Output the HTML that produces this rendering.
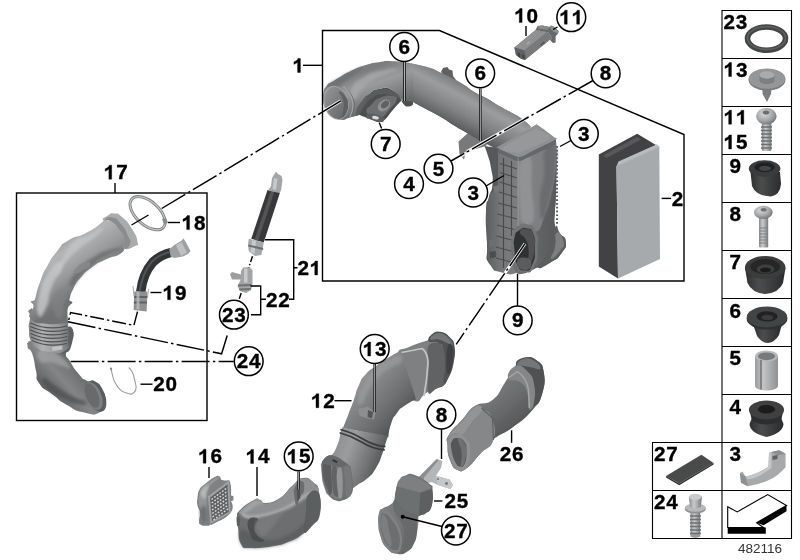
<!DOCTYPE html>
<html>
<head>
<meta charset="utf-8">
<title>Intake duct parts diagram 482116</title>
<style>
html,body{margin:0;padding:0;background:#fff;}
body{width:800px;height:560px;overflow:hidden;font-family:"Liberation Sans",sans-serif;}
svg{display:block;}
.l{stroke:#000;stroke-width:1.4;fill:none;}
.dd{stroke:#000;stroke-width:1.45;fill:none;stroke-dasharray:16 3 2 3;}
.c{fill:#fff;stroke:#000;stroke-width:1.5;}
.t{font-family:"Liberation Sans",sans-serif;font-weight:bold;font-size:19.5px;fill:#000;stroke:#000;stroke-width:0.35;}
.t1{fill:#000;stroke:#000;stroke-width:37;}
.sm{font-family:"Liberation Sans",sans-serif;font-size:13.5px;fill:#333;}
</style>
</head>
<body>
<svg width="800" height="560" viewBox="0 0 800 560">
<defs>
<filter id="b1" x="-5%" y="-5%" width="110%" height="110%"><feGaussianBlur stdDeviation="0.6"/></filter>
<filter id="b2" x="-10%" y="-10%" width="120%" height="120%"><feGaussianBlur stdDeviation="1.6"/></filter>
<filter id="b3" x="-20%" y="-20%" width="140%" height="140%"><feGaussianBlur stdDeviation="3"/></filter>
<linearGradient id="gMetalV" x1="0" y1="0" x2="1" y2="0"><stop offset="0" stop-color="#8a8c8d"/><stop offset="0.4" stop-color="#c9cbcc"/><stop offset="1" stop-color="#77797a"/></linearGradient>
<linearGradient id="gSleeve" x1="0" y1="0" x2="1" y2="0"><stop offset="0" stop-color="#9a9c9d"/><stop offset="0.35" stop-color="#c2c4c5"/><stop offset="1" stop-color="#8e9091"/></linearGradient>
<radialGradient id="gHead" cx="0.4" cy="0.35" r="0.7"><stop offset="0" stop-color="#d8dadb"/><stop offset="0.6" stop-color="#a3a5a6"/><stop offset="1" stop-color="#6f7172"/></radialGradient>
<linearGradient id="gRub" x1="0" y1="0" x2="1" y2="0"><stop offset="0" stop-color="#2e2f30"/><stop offset="0.35" stop-color="#4c4d4e"/><stop offset="1" stop-color="#2a2b2c"/></linearGradient>
<linearGradient id="gRubV" x1="0" y1="0" x2="0" y2="1"><stop offset="0" stop-color="#4a4b4c"/><stop offset="1" stop-color="#262728"/></linearGradient>
<linearGradient id="gP1" gradientUnits="userSpaceOnUse" x1="395" y1="60" x2="412" y2="108"><stop offset="0" stop-color="#7b7d7e"/><stop offset="0.3" stop-color="#999b9c"/><stop offset="0.65" stop-color="#787a7b"/><stop offset="1" stop-color="#555758"/></linearGradient>
<linearGradient id="gP1b" gradientUnits="userSpaceOnUse" x1="482" y1="92" x2="460" y2="134"><stop offset="0" stop-color="#77797a"/><stop offset="0.28" stop-color="#9b9d9e"/><stop offset="0.6" stop-color="#818384"/><stop offset="0.85" stop-color="#626465"/><stop offset="1" stop-color="#505253"/></linearGradient>
<linearGradient id="gHouseL" gradientUnits="userSpaceOnUse" x1="486" y1="0" x2="518" y2="0"><stop offset="0" stop-color="#5c5e5f"/><stop offset="0.45" stop-color="#747677"/><stop offset="1" stop-color="#7c7e7f"/></linearGradient>
<linearGradient id="gHouseR" gradientUnits="userSpaceOnUse" x1="518" y1="0" x2="560" y2="0"><stop offset="0" stop-color="#6c6e6f"/><stop offset="0.5" stop-color="#626465"/><stop offset="1" stop-color="#555758"/></linearGradient>
<linearGradient id="g17a" gradientUnits="userSpaceOnUse" x1="70" y1="225" x2="105" y2="275"><stop offset="0" stop-color="#8d8f90"/><stop offset="0.3" stop-color="#b3b5b6"/><stop offset="0.65" stop-color="#97999a"/><stop offset="1" stop-color="#6f7172"/></linearGradient>
<linearGradient id="g17b" gradientUnits="userSpaceOnUse" x1="30" y1="0" x2="72" y2="0"><stop offset="0" stop-color="#838586"/><stop offset="0.3" stop-color="#b0b2b3"/><stop offset="0.7" stop-color="#939596"/><stop offset="1" stop-color="#686a6b"/></linearGradient>
<linearGradient id="g17c" gradientUnits="userSpaceOnUse" x1="40" y1="395" x2="85" y2="355"><stop offset="0" stop-color="#525455"/><stop offset="0.45" stop-color="#838586"/><stop offset="0.8" stop-color="#66686a"/><stop offset="1" stop-color="#4a4c4d"/></linearGradient>
<linearGradient id="gHose" x1="0" y1="0" x2="1" y2="0"><stop offset="0" stop-color="#2b2c2d"/><stop offset="0.4" stop-color="#515253"/><stop offset="1" stop-color="#2a2b2c"/></linearGradient>
<linearGradient id="g12a" gradientUnits="userSpaceOnUse" x1="365" y1="370" x2="410" y2="410"><stop offset="0" stop-color="#929495"/><stop offset="0.35" stop-color="#808283"/><stop offset="0.75" stop-color="#686a6b"/><stop offset="1" stop-color="#525455"/></linearGradient>
<linearGradient id="g12b" gradientUnits="userSpaceOnUse" x1="335" y1="440" x2="385" y2="460"><stop offset="0" stop-color="#8c8e8f"/><stop offset="0.3" stop-color="#9a9c9d"/><stop offset="0.7" stop-color="#727475"/><stop offset="1" stop-color="#505253"/></linearGradient>
<linearGradient id="g26" gradientUnits="userSpaceOnUse" x1="480" y1="395" x2="515" y2="440"><stop offset="0" stop-color="#77797a"/><stop offset="0.4" stop-color="#6a6c6d"/><stop offset="1" stop-color="#4c4e4f"/></linearGradient>
<linearGradient id="g25" gradientUnits="userSpaceOnUse" x1="380" y1="500" x2="432" y2="520"><stop offset="0" stop-color="#808283"/><stop offset="0.5" stop-color="#737576"/><stop offset="1" stop-color="#5c5e5f"/></linearGradient>
<linearGradient id="g14" gradientUnits="userSpaceOnUse" x1="270" y1="490" x2="295" y2="545"><stop offset="0" stop-color="#8e9091"/><stop offset="0.4" stop-color="#77797a"/><stop offset="1" stop-color="#4f5152"/></linearGradient>
<linearGradient id="gOpen" gradientUnits="userSpaceOnUse" x1="326" y1="90" x2="346" y2="114"><stop offset="0" stop-color="#919394"/><stop offset="0.5" stop-color="#7c7e7f"/><stop offset="1" stop-color="#66686a"/></linearGradient>
</defs>
<rect x="0" y="0" width="800" height="560" fill="#fff"/>

<g id="parts">
<!-- ===== right column icons ===== -->
<g filter="url(#b1)">
<!-- 23 o-ring -->
<ellipse cx="766.5" cy="38.6" rx="19" ry="11.6" fill="none" stroke="#454647" stroke-width="5.6"/>
<ellipse cx="766.5" cy="38" rx="19" ry="11.4" fill="none" stroke="#5d5e5f" stroke-width="1.6"/>
<!-- 13 washer screw -->
<path d="M762.3 88 L762.6 94 L767 102 L771 94 L771.4 88 Z" fill="#7b7d7e"/>
<ellipse cx="767" cy="79.8" rx="18.5" ry="10.8" fill="#7a7c7d"/>
<ellipse cx="767" cy="78.6" rx="18.3" ry="10.2" fill="#949697"/>
<path d="M759.5 75 V80.5 A7.5 3.6 0 0 0 774.5 80.500 V75 Z" fill="#7d7f80"/>
<ellipse cx="767" cy="75" rx="7.5" ry="3.7" fill="#a9abac"/>
<!-- 11/15 screw -->
<rect x="761.8" y="121" width="9.6" height="30" rx="1.5" fill="url(#gMetalV)"/>
<path d="M761 127 h11 M761 130.500 h11 M761 134 h11 M761 137.500 h11 M761 141 h11 M761 144.500 h11 M761 148 h11" stroke="#6d6f70" stroke-width="1.3" fill="none"/>
<ellipse cx="766.3" cy="116.3" rx="10.3" ry="8.3" fill="url(#gHead)"/>
<ellipse cx="766" cy="112.500" rx="3.2" ry="2" fill="#6a6c6d"/>
<!-- 9 grommet -->
<path d="M750.5 172 L752 186 Q756 196 771 196.500 Q780 195 781 184 L780 172 Z" fill="url(#gRub)"/>
<ellipse cx="764.6" cy="168.6" rx="15.8" ry="8.4" fill="#3a3b3c"/>
<ellipse cx="764.6" cy="167.2" rx="10" ry="4.8" fill="#1f2021"/>
<ellipse cx="765" cy="168.400" rx="6" ry="2.6" fill="#444546"/>
<!-- 8 bolt -->
<rect x="759" y="216" width="9.2" height="31.5" rx="1.2" fill="url(#gMetalV)"/>
<path d="M759 228 h9 M759 231 h9 M759 234 h9 M759 237 h9 M759 240 h9 M759 243 h9" stroke="#808283" stroke-width="1" fill="none"/>
<ellipse cx="763.3" cy="212.3" rx="9.4" ry="6.6" fill="url(#gHead)"/>
<ellipse cx="763.6" cy="209.800" rx="3" ry="1.8" fill="#6f7172"/>
<!-- 7 grommet -->
<path d="M745 268 L747.500 283 Q752 293 765 294 Q779 293 783 283 L785.500 268 Z" fill="url(#gRub)"/>
<ellipse cx="765.2" cy="267.5" rx="20.3" ry="11.4" fill="#3b3c3d"/>
<ellipse cx="765.2" cy="266.500" rx="15" ry="7.6" fill="#262728"/>
<ellipse cx="765.500" cy="269" rx="9" ry="4.4" fill="#3e3f40"/>
<ellipse cx="765.500" cy="270" rx="5.500" ry="2.600" fill="#1d1e1f"/>
<!-- 6 grommet -->
<path d="M753 324 L757 336 Q762 343 768 343 Q775 342 779 335 L782 324 Z" fill="url(#gRub)"/>
<ellipse cx="767" cy="318.6" rx="20.4" ry="11" fill="#2f3031"/>
<ellipse cx="767" cy="317" rx="20.2" ry="10.4" fill="#434445"/>
<ellipse cx="767" cy="316.400" rx="10.500" ry="5.200" fill="#202122"/>
<ellipse cx="767.500" cy="317.500" rx="6" ry="2.800" fill="#3a3b3c"/>
<!-- 5 sleeve -->
<path d="M755 356 V386 A11.500 4.600 0 0 0 778 386 V356 Z" fill="url(#gSleeve)"/>
<ellipse cx="766.500" cy="356" rx="11.500" ry="5.600" fill="#b9bbbc"/>
<ellipse cx="766.500" cy="356.300" rx="8.600" ry="3.900" fill="#77797a"/>
<path d="M761 360 V389.500" stroke="#5e6061" stroke-width="1.2" fill="none"/>
<!-- 4 grommet -->
<path d="M749.500 424 Q750 433 766.500 437 Q783 433 783.500 424 L781 418 H752 Z" fill="url(#gRub)"/>
<path d="M750 412 L752 421 Q766 428 781 421 L783 412 Z" fill="#2c2d2e"/>
<ellipse cx="766.500" cy="410" rx="17.600" ry="9.400" fill="#3f4041"/>
<ellipse cx="766.500" cy="409.200" rx="8.600" ry="4.300" fill="#1c1d1e"/>
<!-- 27 pad -->
<path d="M666 476 L701.400 454.800 L713.600 463 L679.200 483.600 Z" fill="#4a4b4c"/>
<path d="M666 476 L679.200 483.600 L713.600 463 L713.600 464.500 L679.200 485.200 L666 477.500 Z" fill="#2e2f30"/>
<!-- 3 clip -->
<path d="M740 473 L742.500 471.500 L745.500 476.500 Q758 474 768.500 466.500 L769 452.500 L779 450.300 L785.600 453.700 L785.600 467.200 Q778 476 769 480 Q758 485 748 486.300 L741 482.800 Z" fill="#a7a9aa"/>
<path d="M745.500 476.500 Q758 474 768.500 466.500 L769 452.500 L771.500 452 L771.500 468 Q760 477 748 479.500 Z" fill="#c4c6c7"/>
<path d="M771.500 452 L779 450.300 L785.600 453.700 L778 455.500 Z" fill="#8b8d8e"/>
<path d="M772.500 456 l5 -1 v4 l-5 1 z" fill="#5f6162"/>
<path d="M740 473 L745.500 476.500 L748 486.300 L741 482.800 Z" fill="#8e9091"/>
<!-- 24 bolt -->
<rect x="690.400" y="510" width="9.800" height="24" rx="1.500" fill="url(#gMetalV)"/>
<path d="M690.400 536.800 l4.900 1.200 l4.900 -1.200 v-4 h-9.800 z" fill="#9b9d9e"/>
<path d="M690 516 h11 M690 519.500 h11 M690 523 h11 M690 526.500 h11 M690 530 h11 M690 533.500 h11" stroke="#6d6f70" stroke-width="1.300" fill="none"/>
<ellipse cx="695.300" cy="509" rx="10.600" ry="4.600" fill="#8e9091"/>
<ellipse cx="695.300" cy="507.600" rx="10.400" ry="4.200" fill="#b7b9ba"/>
<path d="M688.800 497 L690 507 Q695 510 700.800 507 L702 497 Q695.500 492 688.800 497 Z" fill="url(#gMetalV)"/>
<ellipse cx="695.300" cy="496.800" rx="6.400" ry="3" fill="#c9cbcc"/>
</g>
<!-- arrow -->
<path d="M727.700 506.800 L737.200 511.900 L767.700 494.600 L786.500 505.400 L756.600 522.700 L763.400 527.500 L727.700 527.500 Z" fill="#fff" stroke="#000" stroke-width="1.100" stroke-linejoin="miter"/>
<path d="M727.700 527.500 H765.800 V533.800 H727.700 Z" fill="#000"/>
<path d="M756.600 522.700 L786.500 505.400 L786.500 511.300 L763.600 525.200 Z" fill="#000"/>
<g filter="url(#b1)">
<path d="M598.8 154.5 L637.2 133.8 L659.3 147 L616.5 166.3 L618 278.4 L598.8 266.6 Z" fill="#424344"/>
<path d="M603 155.5 L637 137 L641 139.5 L606.5 158 Z" fill="#58595a"/>
<path d="M616.5 166.3 L659.3 147 L660 259 L618 278.4 Z" fill="#a6aaac"/>
<path d="M616.5 166.3 L618.5 161.5 L657 144.2 L659.3 147 Z" fill="#b9bcbe"/>
</g>
<g filter="url(#b1)">
<path d="M441 72 L443 68 L447.5 67 L449 69.5 L452.5 70.5 L453 76 L456 80 L448 80 Z" fill="#5f6162"/>
<path d="M357.0 114.0 C357.0 114.0 359.3 111.2 363.5 104.5 C367.7 97.8 364.0 99.3 369.5 94.0 C375.0 88.7 372.5 90.0 380.0 88.7 C387.5 87.4 385.0 86.6 392.0 90.0 C399.0 93.4 401.0 99.0 401.0 99.0 C401.0 99.0 401.2 101.5 403.5 104.0 C405.8 106.5 404.8 106.3 408.0 106.5 C411.2 106.7 413.0 104.5 413.0 104.5 C413.0 104.5 413.0 101.0 413.0 101.0 C413.0 101.0 409.0 100.0 405.0 100.0 C401.0 100.0 401.0 101.0 401.0 101.0 C401.0 101.0 397.3 104.8 392.0 111.0 C386.7 117.2 389.0 115.8 385.0 119.5 C381.0 123.2 384.3 122.0 380.0 122.0 C375.7 122.0 376.7 121.0 372.0 119.5 C367.3 118.0 371.0 119.3 366.0 117.5 C361.0 115.7 357.0 114.0 357.0 114.0 Z" fill="#4d4f50"/>
<path d="M367.0 113.0 C365.0 108.0 367.3 109.2 372.0 104.0 C376.7 98.8 374.3 100.2 381.0 97.5 C387.7 94.8 386.8 95.2 392.0 96.0 C397.2 96.8 397.2 95.7 396.5 100.0 C395.8 104.3 394.5 103.5 390.0 109.0 C385.5 114.5 387.0 113.2 383.0 116.5 C379.0 119.8 383.3 120.2 378.0 119.0 C372.7 117.8 369.0 118.0 367.0 113.0 Z" fill="#6c6e6f"/>
<ellipse cx="384" cy="105.5" rx="7" ry="5" fill="#8f9192" transform="rotate(-40 384 105.5)"/>
<ellipse cx="385" cy="104.5" rx="4.5" ry="3" fill="#5e6061" transform="rotate(-40 385 104.5)"/>
<path d="M366.5 117.0 C366.2 114.8 366.2 113.7 371.0 113.5 C375.8 113.3 376.7 114.5 381.0 116.5 C385.3 118.5 384.3 117.7 384.0 119.5 C383.7 121.3 384.0 121.8 380.0 122.0 C376.0 122.2 376.5 121.7 372.0 120.0 C367.5 118.3 366.8 119.2 366.5 117.0 Z" fill="#5c5e5f"/>
<ellipse cx="375.5" cy="117.6" rx="3.4" ry="1.7" fill="#d9dbdc" transform="rotate(12 375.5 117.6)"/>
<path d="M468 133 L458.5 141.5 L459.5 154 L464 159.5 L465.5 153 L472 150 L486 146 L490 138 Z" fill="#77797a"/>
<path d="M461 154.2 l5 -2.6 l0.8 3 l-5 2.7 z" fill="#ececec"/>
<path d="M326.7 85.7 C330.0 81.5 328.7 84.1 333.0 81.3 C337.3 78.5 333.8 80.6 339.5 77.3 C345.2 74.0 341.5 75.3 350.0 71.3 C358.5 67.3 355.0 68.4 365.0 65.3 C375.0 62.2 371.0 63.4 380.0 62.0 C389.0 60.6 384.0 61.1 392.0 61.2 C400.0 61.3 395.5 61.1 404.0 62.3 C412.5 63.5 408.8 62.8 417.5 64.7 C426.2 66.6 422.5 65.4 430.0 68.0 C437.5 70.6 430.0 67.7 440.0 72.5 C450.0 77.3 448.3 75.8 460.0 82.5 C471.7 89.2 466.3 87.3 475.0 92.5 C483.7 97.7 477.7 93.3 486.0 98.0 C494.3 102.7 491.3 101.5 500.0 106.5 C508.7 111.5 504.7 108.8 512.0 113.0 C519.3 117.2 515.7 114.3 522.0 119.0 C528.3 123.7 531.0 127.0 531.0 127.0 C531.0 127.0 498.0 150.0 498.0 150.0 C498.0 150.0 496.0 148.7 490.0 145.5 C484.0 142.3 487.3 144.5 480.0 140.5 C472.7 136.5 476.3 138.3 468.0 133.5 C459.7 128.7 464.3 131.7 455.0 126.0 C445.7 120.3 450.0 122.3 440.0 116.5 C430.0 110.7 434.0 113.3 425.0 108.5 C416.0 103.7 413.0 102.0 413.0 102.0 C413.0 102.0 401.0 99.5 401.0 99.5 C401.0 99.5 399.0 93.6 392.0 90.0 C385.0 86.4 387.5 87.4 380.0 88.7 C372.5 90.0 375.0 88.7 369.5 94.0 C364.0 99.3 367.7 97.3 363.5 104.5 C359.3 111.7 357.0 115.5 357.0 115.5 C357.0 115.5 355.8 116.2 350.0 117.5 C344.2 118.8 346.5 120.8 339.5 119.5 C332.5 118.2 334.3 119.0 329.0 113.5 C323.7 108.0 325.4 109.5 323.5 103.0 C321.6 96.5 322.1 99.8 323.2 94.0 C324.3 88.2 323.4 89.9 326.7 85.7 Z" fill="url(#gP1)"/>
<path d="M413.0 64.0 C413.0 64.0 421.0 65.2 430.0 68.0 C439.0 70.8 430.0 67.7 440.0 72.5 C450.0 77.3 448.3 75.8 460.0 82.5 C471.7 89.2 466.3 87.3 475.0 92.5 C483.7 97.7 477.7 93.3 486.0 98.0 C494.3 102.7 491.3 101.5 500.0 106.5 C508.7 111.5 504.7 108.8 512.0 113.0 C519.3 117.2 515.7 114.3 522.0 119.0 C528.3 123.7 531.0 127.0 531.0 127.0 C531.0 127.0 498.0 150.0 498.0 150.0 C498.0 150.0 496.0 148.7 490.0 145.5 C484.0 142.3 487.3 144.5 480.0 140.5 C472.7 136.5 476.3 138.3 468.0 133.5 C459.7 128.7 464.3 131.7 455.0 126.0 C445.7 120.3 450.0 122.3 440.0 116.5 C430.0 110.7 434.0 113.3 425.0 108.5 C416.0 103.7 413.0 102.0 413.0 102.0 C413.0 102.0 413.0 64.0 413.0 64.0 Z" fill="url(#gP1b)"/>
<path d="M352.0 88.0 C355.0 80.7 354.7 82.7 364.0 77.0 C373.3 71.3 368.7 73.7 380.0 71.0 C391.3 68.3 395.3 68.0 398.0 69.0 C400.7 70.0 396.0 70.3 388.0 74.0 C380.0 77.7 382.7 75.0 374.0 80.0 C365.3 85.0 368.3 82.7 362.0 89.0 C355.7 95.3 358.3 99.3 355.0 99.0 C351.7 98.7 349.0 95.3 352.0 88.0 Z" fill="#a6a8a9" opacity="0.85" filter="url(#b2)"/>
<path d="M328.0 86.0 C329.3 82.5 332.0 82.3 340.0 77.5 C348.0 72.7 344.7 74.8 352.0 71.5 C359.3 68.2 362.0 66.0 362.0 67.5 C362.0 69.0 358.7 70.5 352.0 76.0 C345.3 81.5 347.3 80.0 342.0 84.0 C336.7 88.0 340.7 87.3 336.0 88.0 C331.3 88.7 326.7 89.5 328.0 86.0 Z" fill="#66686a" opacity="0.6" filter="url(#b2)"/>
<path d="M356.0 112.0 C357.0 107.3 357.3 107.2 362.0 101.0 C366.7 94.8 364.0 97.3 370.0 93.5 C376.0 89.7 372.7 90.3 380.0 89.5 C387.3 88.7 385.3 88.2 392.0 91.0 C398.7 93.8 400.0 96.5 400.0 98.0 C400.0 99.5 398.3 96.7 392.0 95.5 C385.7 94.3 388.0 93.3 381.0 94.5 C374.0 95.7 376.7 94.8 371.0 99.0 C365.3 103.2 368.0 101.7 364.0 107.0 C360.0 112.3 361.7 113.3 359.0 115.0 C356.3 116.7 355.0 116.7 356.0 112.0 Z" fill="#5b5d5e" opacity="0.9"/>
<ellipse cx="336" cy="102.700" rx="12.300" ry="17.300" transform="rotate(-15 336 102.700)" fill="#a2a4a5"/>
<ellipse cx="336.300" cy="102.900" rx="11.300" ry="16.300" transform="rotate(-15 336.300 102.900)" fill="url(#gOpen)"/>
<path d="M339.0 92.0 C339.7 90.7 342.0 92.0 345.0 96.0 C348.0 100.0 347.7 98.7 348.0 104.0 C348.3 109.3 348.0 107.8 346.0 112.0 C344.0 116.2 342.8 117.8 342.0 116.5 C341.2 115.2 343.2 113.5 343.5 108.0 C343.8 102.5 344.5 105.3 343.0 100.0 C341.5 94.7 338.3 93.3 339.0 92.0 Z" fill="#5c5e5f" opacity="0.85" filter="url(#b1)"/>
<path d="M345 87.500 Q352.500 93 354.500 104 Q354.500 111 351.500 116.500" stroke="#66686a" stroke-width="1" fill="none" opacity="0.8"/>
<path d="M343.500 86.500 Q351 92 353 104 Q353 111 350 117" stroke="#a8aaab" stroke-width="1.200" fill="none" opacity="0.8"/>
</g>
<g filter="url(#b1)">
<path d="M484.5 146.0 C484.5 146.0 499.0 148.0 499.0 148.0 C499.0 148.0 499.0 262.0 499.0 262.0 C499.0 262.0 492.5 268.8 488.5 262.5 C484.5 256.2 487.8 260.2 487.0 243.0 C486.2 225.8 485.3 226.3 486.0 211.0 C486.7 195.7 486.8 206.0 489.0 197.0 C491.2 188.0 491.8 193.7 492.5 184.0 C493.2 174.3 492.5 177.3 491.0 168.0 C489.5 158.7 490.2 163.3 488.0 156.0 C485.8 148.7 484.5 146.0 484.5 146.0 Z" fill="#57595a"/>
<path d="M498 148 L518.2 156.5 L518.2 226 L512.5 238 L512.5 262 L517 273 L510 274.5 L494 270.5 L488.5 262.5 L487 243 L486 211 L489.5 195 L498 186 Z" fill="url(#gHouseL)"/>
<path d="M518.2 156.5 C518.2 156.5 554.4 139.0 554.4 139.0 C554.4 139.0 556.0 131.3 556.5 150.0 C557.0 168.7 556.5 174.7 556.0 195.0 C555.5 215.3 555.2 200.3 555.0 211.0 C554.8 221.7 553.8 219.5 555.5 227.0 C557.2 234.5 556.6 228.7 560.0 233.6 C563.4 238.5 565.2 235.1 565.7 241.6 C566.2 248.1 566.7 246.0 561.6 253.0 C556.5 260.0 559.5 257.2 550.4 262.5 C541.3 267.8 543.4 265.2 534.3 269.0 C525.2 272.8 528.8 272.5 523.0 273.8 C517.2 275.1 517.0 273.0 517.0 273.0 C517.0 273.0 514.0 273.7 512.5 262.0 C511.0 250.3 510.6 250.0 512.5 238.0 C514.4 226.0 518.2 226.0 518.2 226.0 C518.2 226.0 518.2 156.5 518.2 156.5 Z" fill="url(#gHouseR)"/>
<path d="M518.5 158.0 C518.5 158.0 555.5 141.5 555.5 141.5 C555.5 141.5 557.2 151.5 556.0 166.0 C554.8 180.5 554.2 182.1 551.0 196.0 C547.8 209.9 547.6 208.7 544.0 218.0 C540.4 227.3 541.0 229.0 537.5 231.0 C534.0 233.0 534.6 227.4 531.0 225.5 C527.4 223.6 527.3 223.9 524.0 224.0 C520.7 224.1 518.5 226.0 518.5 226.0 C518.5 226.0 518.5 158.0 518.5 158.0 Z" fill="#7d7f80"/>
<path d="M520.0 160.0 C523.3 142.0 526.0 146.0 530.0 156.0 C534.0 166.0 530.7 170.7 532.0 190.0 C533.3 209.3 534.7 202.7 534.0 214.0 C533.3 225.3 533.3 221.0 530.0 224.0 C526.7 227.0 527.3 227.7 524.0 223.0 C520.7 218.3 521.3 231.0 520.0 210.0 C518.7 189.0 516.7 178.0 520.0 160.0 Z" fill="#95979a" opacity="0.8" filter="url(#b2)"/>
<path d="M545.0 150.0 C548.7 140.3 551.5 139.3 555.0 146.0 C558.5 152.7 557.2 152.7 555.5 170.0 C553.8 187.3 554.2 181.7 550.0 198.0 C545.8 214.3 546.3 218.3 543.0 219.0 C539.7 219.7 539.7 214.7 540.0 200.0 C540.3 185.3 542.3 191.7 544.0 175.0 C545.7 158.3 541.3 159.7 545.0 150.0 Z" fill="#66686a" opacity="0.8" filter="url(#b2)"/>
<path d="M498.0 148.0 C495.2 146.2 493.9 149.2 500.0 145.5 C506.1 141.8 528.2 128.9 534.5 125.5 C540.8 122.1 534.7 123.3 538.0 125.3 C541.3 127.3 551.6 135.1 554.4 137.5 C557.2 139.9 560.6 136.9 555.0 140.0 C549.4 143.1 527.3 153.6 521.0 156.3 C514.7 159.0 520.8 157.7 517.0 156.3 C513.2 154.9 500.8 149.8 498.0 148.0 Z" fill="#8e9091"/>
<path d="M497.8 148.5 L517 157 L521 157 L555.2 140.5 L555.8 144.5 L520.5 161 L516.5 161 L497.8 152.5 Z" fill="#65676a"/>
<path d="M503.0 148.0 C505.9 144.1 528.2 132.6 534.0 129.5 C539.8 126.4 535.0 128.0 537.5 129.5 C540.0 131.0 551.9 134.7 549.0 138.5 C546.1 142.3 525.4 150.1 520.0 152.5 C514.6 154.9 519.3 153.6 516.5 152.8 C513.7 152.1 500.1 151.9 503.0 148.0 Z" fill="#96989a"/>
<path d="M500 163.500 L517 169 M500 172.500 L517 178 M499.500 182 L517 187.500 M499 192 L517 197.500 M498 203 L517 208 M497.500 214 L517 219 M497 225 L514 229.500 M496.500 236 L511.500 240 M496 247 L511 251 M496 258 L511 262" stroke="#4c4e4f" stroke-width="1.100" fill="none"/>
<path d="M503.500 158 V268 M511.500 161 V236" stroke="#474949" stroke-width="1.100" fill="none"/>
<path d="M518.200 158 V226" stroke="#9a9c9d" stroke-width="1" fill="none" opacity="0.800"/>
<path d="M493 187 l4.500 -2 l2 5.500 l-4.500 2.500 z" fill="#747677"/>
<path d="M489 240 l6 -1.500 l0.500 7 l-6 1.500 z" fill="#6c6e6f"/>
<path d="M489.500 252 l6 -1 l0.500 6 l-6 1.500 z" fill="#4b4d4e"/>
<path d="M557 146 V224" stroke="#5a5c5d" stroke-width="2" stroke-dasharray="1.700 2.100" fill="none"/>
<path d="M555.5 227.0 C558.2 223.5 556.6 228.7 560.0 233.6 C563.4 238.5 565.2 235.1 565.7 241.6 C566.2 248.1 566.7 246.0 561.6 253.0 C556.5 260.0 558.3 257.7 550.4 262.5 C542.5 267.3 539.5 269.7 538.0 267.5 C536.5 265.3 541.3 263.8 546.0 256.0 C550.7 248.2 548.8 253.7 552.0 244.0 C555.2 234.3 552.8 230.5 555.5 227.0 Z" fill="#5b5d5e"/>
<path d="M556.5 233.0 C559.3 231.2 562.3 235.5 563.5 241.5 C564.7 247.5 564.2 245.3 560.0 251.0 C555.8 256.7 552.7 259.8 551.0 258.5 C549.3 257.2 553.2 255.5 555.0 247.0 C556.8 238.5 553.7 234.8 556.5 233.0 Z" fill="#808283" opacity="0.9"/>
<path d="M512.6 236.8 C514.5 229.2 513.1 231.0 518.2 227.0 C523.3 223.0 522.0 223.0 527.9 224.7 C533.8 226.4 532.7 224.2 535.9 232.0 C539.1 239.8 538.0 236.8 537.5 248.0 C537.0 259.2 538.6 257.7 534.3 265.7 C530.0 273.7 531.1 272.6 524.7 272.0 C518.3 271.4 519.0 271.4 515.0 264.0 C511.0 256.6 513.4 258.8 512.6 249.7 C511.8 240.6 510.7 244.4 512.6 236.8 Z" fill="#727475"/>
<path d="M514.5 238.0 C516.0 231.7 514.7 233.7 519.0 230.5 C523.3 227.3 522.7 227.2 527.5 228.5 C532.3 229.8 531.1 228.0 533.5 234.5 C535.9 241.0 535.1 238.2 534.8 248.0 C534.5 257.8 535.9 256.5 532.5 264.0 C529.1 271.5 529.8 270.8 524.5 270.5 C519.2 270.2 519.8 270.0 516.5 263.0 C513.2 256.0 515.2 257.8 514.5 249.5 C513.8 241.2 513.0 244.3 514.5 238.0 Z" fill="#2e3031"/>
<path d="M520.0 232.0 C520.5 228.3 523.0 228.0 527.5 229.0 C532.0 230.0 531.2 228.7 533.5 235.0 C535.8 241.3 535.2 239.0 534.5 248.0 C533.8 257.0 533.7 256.7 531.5 262.0 C529.3 267.3 529.0 268.0 528.0 264.0 C527.0 260.0 529.2 258.0 528.5 250.0 C527.8 242.0 528.8 246.0 526.0 240.0 C523.2 234.0 519.5 235.7 520.0 232.0 Z" fill="#4f5152"/>
<path d="M517.0 263.0 C516.8 258.8 519.2 257.3 524.0 257.5 C528.8 257.7 531.3 259.3 531.5 263.5 C531.7 267.7 529.3 270.2 524.5 270.0 C519.7 269.8 517.2 267.2 517.0 263.0 Z" fill="#5a5c5d"/>
</g>
<g filter="url(#b1)">
<ellipse cx="147.6" cy="213.2" rx="21.2" ry="11.6" transform="rotate(42 147.6 213.2)" fill="none" stroke="#7c7e7f" stroke-width="3"/>
<ellipse cx="147.6" cy="213.2" rx="21.2" ry="11.6" transform="rotate(42 147.6 213.2)" fill="none" stroke="#c2c4c5" stroke-width="1.300"/>
<path d="M162 219 l4 -1 l2 4.5 l-3.5 2.500 z" fill="#8a8c8d"/>
<path d="M35.0 340.0 C23.3 342.7 29.7 340.8 29.0 346.0 C28.3 351.2 30.6 347.5 32.9 355.7 C35.2 363.9 33.9 361.4 36.0 370.7 C38.1 380.0 34.0 375.8 39.3 383.6 C44.6 391.4 42.8 386.9 52.0 394.0 C61.2 401.1 56.2 398.8 67.0 405.0 C77.8 411.2 73.5 410.0 84.3 412.5 C95.1 415.0 92.5 415.7 99.3 412.5 C106.1 409.3 103.5 410.4 104.6 402.9 C105.7 395.4 105.7 397.2 102.5 390.0 C99.3 382.8 100.4 384.6 95.0 381.4 C89.6 378.2 92.1 383.2 86.4 380.4 C80.7 377.6 83.2 379.0 77.9 372.9 C72.6 366.8 74.4 368.8 70.4 362.0 C66.4 355.2 65.7 358.9 66.0 352.5 C66.3 346.1 69.2 350.7 71.4 342.9 C73.6 335.1 72.5 329.0 72.5 329.0 C72.5 329.0 66.0 328.0 66.0 328.0 C66.0 328.0 74.3 334.0 64.0 338.0 C53.7 342.0 46.7 337.3 35.0 340.0 Z" fill="url(#g17c)"/>
<path d="M66.0 328.0 C66.0 328.0 70.5 324.0 72.5 329.0 C74.5 334.0 74.0 335.2 72.0 343.0 C70.0 350.8 69.8 350.8 66.5 352.5 C63.2 354.2 62.2 356.2 62.0 348.0 C61.8 339.8 66.0 328.0 66.0 328.0 Z" fill="#5d5f60"/>
<path d="M38.0 352.0 C40.3 348.0 40.7 348.7 48.0 350.0 C55.3 351.3 52.7 350.0 60.0 356.0 C67.3 362.0 69.3 364.7 70.0 368.0 C70.7 371.3 68.7 368.0 62.0 366.0 C55.3 364.0 57.0 363.3 50.0 362.0 C43.0 360.7 45.0 365.3 41.0 362.0 C37.0 358.7 35.7 356.0 38.0 352.0 Z" fill="#a2a4a5" opacity="0.75" filter="url(#b2)"/>
<path d="M44.0 378.0 C47.3 377.7 46.7 380.0 56.0 386.0 C65.3 392.0 62.0 390.7 72.0 396.0 C82.0 401.3 84.0 399.3 86.0 402.0 C88.0 404.7 86.7 405.7 78.0 404.0 C69.3 402.3 70.7 402.7 60.0 397.0 C49.3 391.3 51.3 393.3 46.0 387.0 C40.7 380.7 40.7 378.3 44.0 378.0 Z" fill="#4c4e4f" opacity="0.7" filter="url(#b2)"/>
<ellipse cx="96.500" cy="396.500" rx="8.600" ry="16" transform="rotate(-22 96.500 396.500)" fill="#5a5c5d"/>
<ellipse cx="94" cy="396" rx="7.400" ry="14.500" transform="rotate(-22 94 396)" fill="#7c7e7f"/>
<ellipse cx="92" cy="395.500" rx="6.200" ry="13" transform="rotate(-22 92 395.500)" fill="#696b6c"/>
<path d="M36.0 300.0 C24.5 302.7 35.5 301.3 33.4 308.0 C31.3 314.7 31.3 312.7 29.8 320.0 C28.3 327.3 28.7 323.1 29.0 330.0 C29.3 336.9 28.7 335.0 30.7 340.7 C32.7 346.4 28.6 343.2 35.0 347.0 C41.4 350.8 39.7 351.0 50.0 352.0 C60.3 353.0 59.9 354.0 66.0 350.0 C72.1 346.0 67.5 348.0 68.2 340.0 C68.9 332.0 68.5 335.5 68.2 326.0 C67.9 316.5 67.4 320.1 67.3 311.4 C67.2 302.7 78.4 303.8 68.0 300.0 C57.6 296.2 47.5 297.3 36.0 300.0 Z" fill="url(#g17b)"/>
<path d="M30.500 323 Q48 331 67 326 M30.300 326.500 Q48 334.500 67.500 329.500 M30.300 330 Q48 338 67.500 333 M30.500 333.500 Q48 341.500 67.500 336.500 M31 337 Q48 345 67.500 340 M32 340.500 Q48 348 67 343.500" stroke="#4f5152" stroke-width="1.200" fill="none"/>
<path d="M28 311 l4 -3 l2 4 l-3 4 z M27 343 l5 -1 l1 6 l-5 1 z M33 318 l3 -6 l3 2 l-2 6 z" fill="#7e8081"/>
<path d="M52 347 l10 -1.500 l0.500 4 l-10 1.500 z" fill="#bfc1c2"/>
<path d="M103.0 220.0 C103.0 220.0 105.7 219.7 100.0 224.0 C94.3 228.3 96.6 227.5 86.0 233.0 C75.4 238.5 77.7 234.6 68.2 240.5 C58.7 246.4 64.6 241.9 57.5 250.7 C50.4 259.5 52.5 256.7 46.8 266.8 C41.1 276.9 44.1 271.5 40.5 281.0 C36.9 290.5 38.4 286.4 36.0 295.4 C33.6 304.4 35.1 300.1 33.4 308.0 C31.7 315.9 26.1 313.7 31.0 319.0 C35.9 324.3 35.7 323.0 48.0 324.0 C60.3 325.0 68.0 322.0 68.0 322.0 C68.0 322.0 66.9 318.5 67.3 311.4 C67.7 304.3 67.0 308.4 69.1 300.7 C71.2 293.0 69.7 295.9 73.6 288.2 C77.5 280.5 74.8 284.3 80.7 277.5 C86.6 270.7 83.1 273.7 91.4 267.7 C99.7 261.7 96.2 264.2 105.7 259.6 C115.2 255.0 113.9 257.9 120.0 254.0 C126.1 250.1 124.0 248.0 124.0 248.0 C124.0 248.0 131.3 247.3 130.0 240.0 C128.7 232.7 129.0 232.7 120.0 226.0 C111.0 219.3 103.0 220.0 103.0 220.0 Z" fill="url(#g17a)"/>
<path d="M70.0 246.0 C80.7 232.7 77.3 242.0 88.0 236.0 C98.7 230.0 99.3 228.0 102.0 228.0 C104.7 228.0 103.3 229.3 96.0 236.0 C88.7 242.7 90.0 239.3 80.0 248.0 C70.0 256.7 74.0 252.7 66.0 262.0 C58.0 271.3 54.7 281.3 56.0 276.0 C57.3 270.7 59.3 259.3 70.0 246.0 Z" fill="#c3c5c6" opacity="0.8" filter="url(#b2)"/>
<path d="M74.0 285.0 C78.0 282.7 74.7 282.3 82.0 275.0 C89.3 267.7 87.3 269.7 96.0 263.0 C104.7 256.3 99.3 259.7 108.0 255.0 C116.7 250.3 121.3 250.7 122.0 249.0 C122.7 247.3 119.3 247.3 110.0 250.0 C100.7 252.7 104.0 251.0 94.0 257.0 C84.0 263.0 88.0 259.7 80.0 268.0 C72.0 276.3 72.0 276.3 70.0 282.0 C68.0 287.7 70.0 287.3 74.0 285.0 Z" fill="#6a6c6d" opacity="0.8" filter="url(#b2)"/>
<path d="M76.0 268.0 C79.7 264.3 81.3 263.0 86.0 262.0 C90.7 261.0 91.3 262.0 90.0 265.0 C88.7 268.0 87.0 268.3 82.0 271.0 C77.0 273.7 77.0 274.0 75.0 273.0 C73.0 272.0 72.3 271.7 76.0 268.0 Z" fill="#86888a" opacity="0.9"/>
<path d="M40.0 292.0 C43.3 278.7 42.0 284.0 48.0 274.0 C54.0 264.0 53.3 264.0 58.0 262.0 C62.7 260.0 64.0 260.0 62.0 268.0 C60.0 276.0 57.3 272.7 52.0 286.0 C46.7 299.3 50.7 298.7 46.0 308.0 C41.3 317.3 40.0 319.3 38.0 314.0 C36.0 308.7 36.7 305.3 40.0 292.0 Z" fill="#c6c8c9" opacity="0.8" filter="url(#b2)"/>
<path d="M54.0 300.0 C55.7 292.0 56.0 292.3 60.0 290.0 C64.0 287.7 64.7 288.3 66.0 293.0 C67.3 297.7 65.3 296.3 64.0 304.0 C62.7 311.7 65.0 312.7 62.0 316.0 C59.0 319.3 57.7 319.3 55.0 314.0 C52.3 308.7 52.3 308.0 54.0 300.0 Z" fill="#808283" opacity="0.7" filter="url(#b2)"/>
<path d="M103.0 220.0 C101.7 218.3 104.3 217.7 108.0 215.5 C111.7 213.3 109.3 213.0 114.0 213.5 C118.7 214.0 116.0 211.8 122.0 217.0 C128.0 222.2 126.8 220.7 132.0 229.0 C137.2 237.3 136.5 236.3 137.5 242.0 C138.5 247.7 139.5 243.8 135.0 246.0 C130.5 248.2 127.0 250.5 124.0 248.5 C121.0 246.5 127.3 246.8 126.0 240.0 C124.7 233.2 124.7 234.5 120.0 228.0 C115.3 221.5 117.7 223.2 112.0 220.5 C106.3 217.8 104.3 221.7 103.0 220.0 Z" fill="#a9abac"/>
<path d="M105.0 220.5 C105.3 219.2 106.7 216.3 112.0 217.5 C117.3 218.7 115.7 217.8 121.0 224.0 C126.3 230.2 125.0 229.3 128.0 236.0 C131.0 242.7 131.3 239.8 130.0 244.0 C128.7 248.2 125.7 249.8 124.0 248.5 C122.3 247.2 126.7 246.5 125.0 240.0 C123.3 233.5 123.7 235.2 119.0 229.0 C114.3 222.8 115.7 224.3 111.0 221.5 C106.3 218.7 104.7 221.8 105.0 220.5 Z" fill="#8a8c8d"/>
<path d="M140.700 292 C142 280 146 270 153 262 C159 256.500 164 254 171 252.500" stroke="#333435" stroke-width="9.400" fill="none"/>
<path d="M139.700 292 C141 280 145 270 152 261.500 C158 256 163 253.500 170 252" stroke="#57595a" stroke-width="2.200" fill="none" opacity="0.800"/>
<path d="M169.300 249.300 L174.300 245 L181 241 L183.500 238.500 L185.500 241.500 L190.500 251 L188 254 L182.900 256.600 L174.300 258 L170.700 256.400 Z" fill="#9d9fa0"/>
<path d="M176 245 L181.500 242 L187 252.500 L181 256 Z" fill="#bec0c1"/>
<path d="M134.300 291.400 L147.400 291.400 L146.600 311.500 L133.600 310 Z" fill="#8e9091"/>
<path d="M134.200 296 h13 v2 h-13 z M133.900 301.500 h13 v2 h-13 z" fill="#5f6162"/>
<path d="M136.500 291.400 h3 v18 h-3 z" fill="#c0c2c3" opacity="0.7"/>
<path d="M133 286 L134 296 M148.500 289 L147.500 298" stroke="#9a9c9d" stroke-width="0.9" fill="none"/>
<path d="M111 368.700 C112.500 375 113 379 115 382.500 C118 388 121 391.500 125 392.500 C128 393.500 131 395 132.500 393.700 C135 392 136.500 389 136 386 C135 381 134 376 132.500 372.500 C131.500 370 130 368.500 128.700 367.500" stroke="#9b9d9e" stroke-width="1.100" fill="none"/>
<circle cx="111" cy="368.700" r="1.200" fill="#8a8c8d"/>
<path d="M267.500 190 L280 192.500 L263.750 242.500 L251.250 238.750 Z" fill="#39393a"/>
<path d="M271 190.700 L274.500 191.400 L258 241 L254.500 240 Z" fill="#5a5b5c" opacity="0.8"/>
<path d="M271 186 L272 178 L274.500 174 L276 171.500 L278 174 L281.500 176 L282.500 180 L281 190.500 L279.500 193 L268 190.500 Z" fill="#a3a5a6"/>
<path d="M274 178 l3.500 1 l-1.500 11 l-3.500 -1 z" fill="#cfd1d2" opacity="0.8"/>
<path d="M248.750 238.750 L263.750 242.500 L263 247 L261.250 255 L255 256 L248.750 251.250 L248 245 Z" fill="#a5a7a8"/>
<path d="M252 240 l4 1 l-1.500 13 l-4 -2 z" fill="#d0d2d3" opacity="0.8"/>
<path d="M248.500 244.500 L263.300 248 L263 250 L248.300 246.500 Z" fill="#6c6e6f"/>
<path d="M230 274.500 L232 272 L241 274.500 L241 279.500 L232 279.500 Z" fill="#9c9e9f"/>
<path d="M243 267.500 L249.500 267 L252.500 270 L252.500 284 L251 290 L246 293 L240 291 L237.500 286 L240.500 280 L241 271 Z" fill="#a2a4a5"/>
<path d="M244 268.500 l3.500 0 l0 14 l-3.500 0 z" fill="#d2d4d5" opacity="0.8"/>
<path d="M238 284.500 L251.500 284 L251.300 286 L238 286.500 Z M239 288.500 L251 288 L250.500 290 L239.500 290.500 Z" fill="#6e7071"/>
</g>
<g filter="url(#b1)">
<path d="M514.4 47.5 L535.6 30 L548.5 32.5 L552 38 L525 60 L521 58.7 L516 55 Z" fill="#6f7172"/>
<path d="M514.4 47.5 L535.6 30 L547 32.3 L524.5 50.5 Z" fill="#8e9091"/>
<path d="M524.5 50.5 L547 32.3 L552 38 L526 59 Z" fill="#77797a"/>
<path d="M514.4 47.5 L524.5 50.5 L526 59 L525 60 L521 58.7 L516 55 Z" fill="#5f6162"/>
<path d="M517.5 52.5 L520 53.3 L520.5 57.5 L518 56.5 Z M522 54.5 L524.5 55.5 L524.8 58.8 L522.3 58 Z" fill="#3f4142"/>
<path d="M526 44 l3 -2.4 l1.6 0.4 l-3 2.4 z" fill="#a9abac"/>
<path d="M540 44.5 l4 -3.2 l1 1.2 l-4 3.200 z" fill="#55575a"/>
<path d="M535.6 30 L537.5 26 L542.5 25.6 L549.4 27 L551 25.6 L553.5 26.5 L558.7 31.2 L558 33.5 L555.6 36.2 L555.6 42.5 L553 43 L550 40 L552 38 L548.5 32.5 Z" fill="#66686a"/>
<path d="M537.5 26 L542.5 25.6 L549.4 27 L548 30 L538 28.5 Z" fill="#86888a"/>
<path d="M551 25.6 L553.5 26.5 L558.7 31.2 L558 33.5 L553 31.5 L550 28 Z" fill="#8c8e8f"/>
<path d="M398.0 353.0 C399.4 347.3 401.7 350.3 408.0 347.5 C414.3 344.7 418.9 342.7 425.0 341.2 C431.1 339.7 429.6 339.2 434.0 341.0 C438.4 342.8 440.7 343.4 444.0 349.0 C447.3 354.6 447.5 357.2 448.0 365.0 C448.5 372.8 448.8 377.0 446.0 382.5 C443.2 388.0 441.1 386.1 436.2 388.7 C431.3 391.3 429.5 390.7 425.0 393.7 C420.5 396.7 420.7 401.8 417.0 401.5 C413.3 401.2 412.5 399.4 409.0 392.5 C405.5 385.6 404.6 381.2 402.0 372.0 C399.4 362.8 396.6 358.7 398.0 353.0 Z" fill="#7e8081"/>
<path d="M428.0 347.0 C429.7 342.7 434.3 342.1 437.5 342.5 C440.7 342.9 441.9 344.5 444.0 349.0 C446.1 353.5 447.6 358.3 448.0 365.0 C448.4 371.7 448.4 377.8 446.0 382.5 C443.6 387.2 439.8 386.8 436.2 388.7 C432.6 390.6 429.4 396.9 428.0 392.0 C426.6 387.1 429.0 373.0 429.0 364.0 C429.0 355.0 426.3 351.3 428.0 347.0 Z" fill="#606263"/>
<path d="M428.7 341.2 C427.4 338.9 429.2 336.2 432.5 333.7 C435.8 331.2 436.5 331.0 441.2 332.0 C445.9 333.0 446.5 333.7 450.0 337.5 C453.5 341.3 453.5 339.5 454.5 346.2 C455.5 352.9 455.2 354.2 453.7 362.5 C452.2 370.8 451.4 372.2 448.7 377.5 C446.0 382.8 444.7 385.2 443.7 382.5 C442.7 379.8 445.0 376.2 445.0 367.5 C445.0 358.8 445.7 356.7 443.7 350.0 C441.7 343.3 441.5 344.8 437.5 342.5 C433.5 340.2 430.0 343.5 428.7 341.2 Z" fill="#505253"/>
<path d="M430.5 339.5 C429.2 338.3 430.7 336.6 433.5 335.0 C436.3 333.4 436.9 332.6 441.0 333.5 C445.1 334.4 445.9 335.4 449.0 338.5 C452.1 341.6 453.3 343.9 452.5 345.0 C451.7 346.1 449.7 344.0 446.0 342.5 C442.3 341.0 442.6 340.3 438.5 339.5 C434.4 338.7 431.8 340.7 430.5 339.5 Z" fill="#747677"/>
<path d="M448.0 346.0 C449.7 341.7 451.6 343.7 452.8 348.0 C454.0 352.3 453.6 355.1 452.5 362.0 C451.4 368.9 450.1 373.5 448.5 374.0 C446.9 374.5 446.6 371.5 446.5 364.0 C446.4 356.5 446.3 350.3 448.0 346.0 Z" fill="#3f4142"/>
<path d="M400.0 351.0 C400.0 351.0 394.0 354.0 386.0 359.0 C378.0 364.0 382.7 361.0 376.0 366.0 C369.3 371.0 371.7 367.7 366.0 374.0 C360.3 380.3 363.1 376.3 359.0 385.0 C354.9 393.7 357.3 390.2 353.8 400.0 C350.2 409.8 352.0 405.0 348.4 414.3 C344.8 423.6 343.0 428.0 343.0 428.0 C343.0 428.0 388.5 437.0 388.5 437.0 C388.5 437.0 388.2 432.0 391.0 424.0 C393.8 416.0 392.3 419.2 397.0 413.0 C401.7 406.8 398.7 410.0 405.0 405.5 C411.3 401.0 416.0 399.5 416.0 399.5 C416.0 399.5 414.0 392.5 410.0 380.0 C406.0 367.5 407.3 371.7 404.0 362.0 C400.7 352.3 400.0 351.0 400.0 351.0 Z" fill="url(#g12a)"/>
<path d="M372.0 372.0 C378.7 365.0 375.3 368.3 384.0 363.0 C392.7 357.7 392.3 356.3 398.0 356.0 C403.7 355.7 403.7 358.0 401.0 362.0 C398.3 366.0 397.7 362.7 390.0 368.0 C382.3 373.3 385.3 370.0 378.0 378.0 C370.7 386.0 373.3 383.3 368.0 392.0 C362.7 400.7 365.3 402.0 362.0 404.0 C358.7 406.0 357.3 404.7 358.0 398.0 C358.7 391.3 359.3 392.7 364.0 384.0 C368.7 375.3 365.3 379.0 372.0 372.0 Z" fill="#9a9c9d" opacity="0.7" filter="url(#b2)"/>
<path d="M401.500 352.500 Q412 350.500 422 348.500 Q427.500 352 428 362.500 Q427 380 424 396" stroke="#c2c4c5" stroke-width="1.700" fill="none"/>
<path d="M357.500 409 L368 406.500 L372 410 L375.500 413 L374 419.500 L368 418.500 L360 416 Z" fill="#8c8e8f"/>
<path d="M368 410 L373 412 L372 418.500 L367.500 417 Z" fill="#55575a"/>
<path d="M343.0 428.0 C343.0 428.0 343.3 424.3 341.2 430.4 C339.2 436.5 340.7 437.5 336.8 446.4 C332.9 455.3 334.4 451.9 329.6 457.0 C324.8 462.1 325.2 456.8 322.5 461.6 C319.8 466.4 321.0 462.8 321.6 471.4 C322.2 480.0 321.6 479.2 324.3 487.5 C327.0 495.8 325.4 492.1 329.6 496.4 C333.8 500.7 332.9 499.3 336.8 500.5 C340.7 501.7 337.7 502.5 341.2 500.0 C344.8 497.5 342.4 497.7 347.5 492.9 C352.6 488.1 349.9 490.5 356.4 485.7 C362.9 480.9 360.5 484.5 367.0 478.6 C373.5 472.7 370.9 476.2 376.0 467.9 C381.1 459.6 379.1 462.2 382.4 453.6 C385.7 445.0 384.0 447.9 386.0 442.0 C388.0 436.1 388.5 436.0 388.5 436.0 C388.5 436.0 343.0 428.0 343.0 428.0 Z" fill="url(#g12b)"/>
<path d="M340.400 429.500 Q352 432.500 362 438.500 Q374 446 385.500 446.500 M339.600 432.700 Q351 435.700 361 441.700 Q373 449.200 384.800 449.800" stroke="#3a3c3d" stroke-width="1.700" fill="none"/>
<path d="M322.0 462.1 C322.0 462.1 325.1 454.8 331.0 455.2 C336.9 455.6 342.4 459.9 347.2 463.8 C352.0 467.7 350.3 464.9 351.4 471.8 C352.5 478.7 354.7 486.4 352.0 493.2 C349.3 500.0 339.7 500.9 339.7 500.9 C339.7 500.9 333.0 500.9 329.0 495.4 C325.0 489.9 324.1 485.0 322.5 477.2 C320.9 469.4 322.0 462.1 322.0 462.1 Z" fill="#6d6f70"/>
<path d="M323.0 463.4 C323.0 463.4 327.4 464.5 331.0 465.2 C334.6 465.9 338.7 465.8 341.0 467.0 C343.3 468.2 342.2 465.6 342.6 471.0 C343.0 476.4 343.7 488.3 343.0 494.0 C342.3 499.7 339.3 499.6 339.3 499.6 C339.3 499.6 332.8 499.1 329.6 494.6 C326.4 490.1 324.5 483.2 323.2 477.0 C321.9 470.8 323.0 463.4 323.0 463.4 Z" fill="#7a7c7d"/>
<path d="M323.0 463.4 C323.0 463.4 331.0 465.2 331.0 465.2 C331.0 465.2 332.3 484.1 332.0 490.0 C331.7 495.9 329.6 494.6 329.6 494.6 C329.6 494.6 324.5 483.2 323.2 477.0 C321.9 470.8 323.0 463.4 323.0 463.4 Z" fill="#5a5c5d"/>
<path d="M332.5 467.0 C333.4 462.1 335.4 463.6 336.5 468.0 C337.6 472.4 336.4 479.9 337.0 486.0 C337.6 492.1 339.2 491.6 339.0 494.0 C338.8 496.4 337.4 497.7 336.0 496.5 C334.6 495.3 333.6 495.9 332.8 489.0 C332.0 482.1 331.6 471.9 332.5 467.0 Z" fill="#5f6162" opacity="0.9"/>
<path d="M337.0 472.0 C337.9 467.8 340.3 465.1 341.5 470.0 C342.7 474.9 342.8 486.5 342.3 493.0 C341.8 499.5 340.4 499.2 339.3 498.0 C338.2 496.8 338.0 494.1 337.5 488.0 C337.0 481.9 336.1 476.2 337.0 472.0 Z" fill="#9a9c9d" opacity="0.8" filter="url(#b1)"/>
<path d="M322.0 462.1 C322.0 462.1 326.0 454.9 331.0 455.2 C336.0 455.5 347.2 463.8 347.2 463.8 C347.2 463.8 344.7 466.7 341.5 467.0 C338.3 467.3 334.7 465.9 331.0 465.2 C327.3 464.5 323.0 463.6 323.0 463.6 C323.0 463.6 322.0 462.1 322.0 462.1 Z" fill="#66686a"/>
<path d="M333.200 459.300 l4.600 2.300 l-1.200 1.300 l-4.600 -2.300 z" fill="#2f3132"/>
<path d="M344.0 468.0 C344.6 465.2 346.6 465.2 348.0 466.0 C349.4 466.8 350.3 466.7 351.0 472.0 C351.7 477.3 352.5 487.7 351.5 492.5 C350.5 497.3 347.3 498.5 346.0 496.0 C344.7 493.5 345.4 485.6 345.0 480.0 C344.6 474.4 343.4 470.8 344.0 468.0 Z" fill="#77797a" opacity="0.8"/>
<path d="M237.0 518.0 C237.5 513.2 235.5 514.8 240.0 510.0 C244.5 505.2 248.7 502.7 254.0 500.0 C259.3 497.3 256.8 499.2 260.0 500.0 C263.2 500.8 260.7 503.5 266.0 503.0 C271.3 502.5 273.1 502.5 280.0 498.0 C286.9 493.5 285.9 491.3 292.0 486.0 C298.1 480.7 297.1 478.8 303.0 478.0 C308.9 477.2 309.7 479.3 314.0 483.0 C318.3 486.7 317.4 483.7 319.0 492.0 C320.6 500.3 321.9 504.9 320.0 514.0 C318.1 523.1 317.3 520.1 312.0 526.0 C306.7 531.9 306.4 531.7 300.0 536.0 C293.6 540.3 294.9 539.3 288.0 542.0 C281.1 544.7 284.1 544.4 274.0 546.0 C263.9 547.6 258.8 548.5 250.0 548.0 C241.2 547.5 244.2 549.3 241.0 544.0 C237.8 538.7 239.1 534.9 238.0 528.0 C236.9 521.1 236.5 522.8 237.0 518.0 Z" fill="#6c6e6f"/>
<path d="M240.0 511.0 C243.5 507.5 248.7 503.3 254.0 500.5 C259.3 497.7 256.8 499.7 260.0 500.5 C263.2 501.3 260.7 504.0 266.0 503.5 C271.3 503.0 273.1 503.0 280.0 498.5 C286.9 494.0 285.9 491.8 292.0 486.5 C298.1 481.2 297.1 479.3 303.0 478.5 C308.9 477.7 309.9 479.9 314.0 483.5 C318.1 487.1 320.1 489.1 318.5 492.0 C316.9 494.9 312.9 492.2 308.0 494.5 C303.1 496.8 305.3 497.0 300.0 500.5 C294.7 504.0 294.9 504.0 288.0 507.5 C281.1 511.0 281.5 511.1 274.0 513.5 C266.5 515.9 266.9 515.2 260.0 516.5 C253.1 517.8 253.1 519.3 248.0 518.5 C242.9 517.7 243.1 515.5 241.0 513.5 C238.9 511.5 236.5 514.5 240.0 511.0 Z" fill="#8d8f90"/>
<path d="M241 513 Q247 519 260 516.500 Q275 513.500 288 507.500 Q300 500.500 308 494.500 L318 492" stroke="#b9bbbc" stroke-width="2.400" fill="none" filter="url(#b2)"/>
<path d="M308.0 495.0 C310.9 490.4 315.8 488.1 318.5 492.5 C321.2 496.9 321.0 506.3 319.5 514.0 C318.0 521.7 315.6 521.3 312.0 525.5 C308.4 529.7 305.4 535.1 304.0 532.0 C302.6 528.9 305.1 520.6 306.0 512.0 C306.9 503.4 305.1 499.6 308.0 495.0 Z" fill="#5c5e5f"/>
<path d="M241.0 530.0 C243.9 527.3 244.3 531.3 252.0 534.0 C259.7 536.7 259.9 540.0 270.0 540.0 C280.1 540.0 280.7 538.3 290.0 534.0 C299.3 529.7 302.3 523.5 305.0 524.0 C307.7 524.5 304.5 531.2 300.0 536.0 C295.5 540.8 294.9 539.3 288.0 542.0 C281.1 544.7 284.1 544.4 274.0 546.0 C263.9 547.6 258.8 548.5 250.0 548.0 C241.2 547.5 243.4 548.8 241.0 544.0 C238.6 539.2 238.1 532.7 241.0 530.0 Z" fill="#56585a" opacity="0.7" filter="url(#b2)"/>
<path d="M248.5 520.0 C250.6 516.0 256.4 517.1 258.0 519.0 C259.6 520.9 254.8 522.7 254.5 527.0 C254.2 531.3 254.5 531.4 257.0 535.0 C259.5 538.6 264.3 538.9 264.0 540.5 C263.7 542.1 259.7 542.7 256.0 541.0 C252.3 539.3 252.0 539.6 250.0 534.0 C248.0 528.4 246.4 524.0 248.5 520.0 Z" fill="#4a4c4d" opacity="0.9"/>
<path d="M258.0 520.0 C261.7 517.6 263.3 518.1 270.0 516.0 C276.7 513.9 281.1 510.7 283.0 512.0 C284.9 513.3 280.5 516.2 277.0 521.0 C273.5 525.8 273.7 526.0 270.0 530.0 C266.3 534.0 266.3 535.7 263.0 536.0 C259.7 536.3 259.4 533.9 257.5 531.0 C255.6 528.1 255.9 527.9 256.0 525.0 C256.1 522.1 254.3 522.4 258.0 520.0 Z" fill="#7b7d7e" opacity="0.8" filter="url(#b2)"/>
<path d="M295.0 487.0 C297.3 481.7 298.5 480.0 301.5 481.0 C304.5 482.0 304.5 484.7 304.0 490.0 C303.5 495.3 302.3 492.0 300.0 497.0 C297.7 502.0 298.8 505.0 297.0 505.0 C295.2 505.0 295.2 503.0 294.5 497.0 C293.8 491.0 292.7 492.3 295.0 487.0 Z" fill="#66686a" opacity="0.9"/>
<path d="M296.800 488 l3 -2 l0.500 12 l-3 3 z" fill="#4f5152"/>
<path d="M242.0 511.0 C243.9 508.2 249.2 504.0 254.0 501.5 C258.8 499.0 257.3 501.0 260.0 501.5 C262.7 502.0 265.1 502.3 264.0 503.5 C262.9 504.7 260.5 503.7 256.0 506.0 C251.5 508.3 250.7 510.7 247.0 512.0 C243.3 513.3 240.1 513.8 242.0 511.0 Z" fill="#a7a9aa" opacity="0.8" filter="url(#b2)"/>
<path d="M236.500 517 l3 -0.500 l0.500 9 l-3 0.500 z" fill="#5c5e5f"/>
<path d="M197.5 497.9 C198.1 493.6 197.6 493.0 199.6 489.3 C201.6 485.6 201.0 487.2 205.0 483.9 C209.0 480.6 210.8 479.0 214.7 477.0 C218.6 475.0 217.5 475.6 219.5 476.4 C221.5 477.2 219.6 479.0 222.2 480.0 C224.8 481.0 229.1 480.3 229.1 480.3 C229.1 480.3 230.4 481.9 230.9 486.0 C231.4 490.1 230.9 495.5 230.9 495.5 C230.9 495.5 233.4 496.0 233.4 496.0 C233.4 496.0 233.4 500.5 233.4 500.5 C233.4 500.5 230.9 501.0 230.9 501.0 C230.9 501.0 235.3 506.8 230.5 512.9 C225.7 519.0 218.4 520.8 213.0 523.9 C207.6 527.0 211.8 523.9 210.4 524.4 C209.0 524.9 210.3 525.6 207.7 525.7 C205.1 525.8 203.0 526.1 200.7 524.7 C198.4 523.3 199.2 523.5 199.1 520.4 C199.0 517.3 200.6 516.9 200.2 512.9 C199.8 508.9 198.2 509.4 197.5 505.4 C196.8 501.4 196.9 502.2 197.5 497.9 Z" fill="#7f8182"/>
<path d="M199.0 497.0 C199.5 492.9 199.1 492.8 201.0 489.5 C202.9 486.2 202.4 487.4 206.0 484.5 C209.6 481.6 211.0 480.2 214.5 478.5 C218.0 476.8 219.7 476.5 219.0 478.0 C218.3 479.5 215.1 480.8 212.0 484.0 C208.9 487.2 209.0 485.7 207.5 490.0 C206.0 494.3 206.6 492.0 206.5 500.0 C206.4 508.0 207.9 513.9 207.0 520.0 C206.1 526.1 204.7 523.3 203.0 523.0 C201.3 522.7 200.9 521.9 200.5 519.0 C200.1 516.1 201.9 515.7 201.5 512.0 C201.1 508.3 199.7 509.0 199.0 505.0 C198.3 501.0 198.5 501.1 199.0 497.0 Z" fill="#929495"/>
<path d="M201.0 492.0 C201.8 489.2 202.9 488.1 205.0 486.5 C207.1 484.9 208.6 484.5 209.0 486.0 C209.4 487.5 207.4 488.8 206.5 492.0 C205.6 495.2 206.7 496.7 205.5 498.0 C204.3 499.3 203.2 498.6 202.0 497.0 C200.8 495.4 200.2 494.8 201.0 492.0 Z" fill="#bcbebf" opacity="0.9" filter="url(#b2)"/>
<path d="M200.5 509.0 C202.0 505.8 204.3 503.8 206.0 507.0 C207.7 510.2 207.8 516.6 207.0 521.0 C206.2 525.4 204.7 524.0 203.0 523.5 C201.3 523.0 201.2 522.9 200.5 519.0 C199.8 515.1 199.0 512.2 200.5 509.0 Z" fill="#66686a" opacity="0.8" filter="url(#b2)"/>
<path d="M208 496.500 L229.200 480.600 L230.500 512.900 L210.400 523.800 Z" fill="#a0a2a3"/>
<path d="M210 497.700 L227.600 484.300 L228.700 511.900 L212 521 Z" fill="#5d5f60"/>
<path d="M211.500 499.500 L227.500 487.500 M211.700 503 L227.700 491 M211.900 506.500 L227.900 494.500 M212.100 510 L228 498 M212.300 513.500 L228.200 501.500 M212.500 517 L228.300 505 M213.500 520 L228.400 508.500" stroke="#d4d6d7" stroke-width="1.500" stroke-dasharray="1.800 1.500" fill="none"/>
<path d="M448.8 435.0 C452.6 428.3 455.0 427.7 462.0 420.0 C469.0 412.3 466.9 411.3 475.0 406.0 C483.1 400.7 484.5 406.3 492.5 400.0 C500.5 393.7 498.7 391.8 505.0 382.5 C511.3 373.2 510.7 371.7 516.0 365.0 C521.3 358.3 519.3 358.6 525.0 357.5 C530.7 356.4 532.5 357.0 537.5 361.0 C542.5 365.0 542.4 364.1 543.8 372.5 C545.1 380.9 545.5 382.5 542.5 392.5 C539.5 402.5 540.5 400.7 532.5 410.0 C524.5 419.3 523.2 419.5 512.5 427.5 C501.8 435.5 501.2 432.9 492.5 440.0 C483.8 447.1 486.7 446.7 480.0 454.0 C473.3 461.3 473.5 463.2 467.5 467.5 C461.5 471.8 462.2 472.0 457.5 470.0 C452.8 468.0 452.7 466.7 450.0 460.0 C447.3 453.3 447.8 451.7 447.5 445.0 C447.2 438.3 444.9 441.7 448.8 435.0 Z" fill="url(#g26)"/>
<path d="M516.0 365.0 C515.2 360.6 519.3 358.6 525.0 357.5 C530.7 356.4 532.5 357.0 537.5 361.0 C542.5 365.0 542.4 364.1 543.8 372.5 C545.1 380.9 544.8 383.8 542.5 392.5 C540.2 401.2 537.8 406.2 535.0 405.0 C532.2 403.8 533.9 396.3 532.0 388.0 C530.1 379.7 532.3 380.1 528.0 374.0 C523.7 367.9 516.8 369.4 516.0 365.0 Z" fill="#4f5152"/>
<path d="M517.0 364.5 C517.3 362.5 519.9 359.2 525.0 358.5 C530.1 357.8 532.0 359.2 536.0 362.0 C540.0 364.8 541.1 367.5 540.0 369.0 C538.9 370.5 536.3 368.3 532.0 367.5 C527.7 366.7 528.0 366.8 524.0 366.0 C520.0 365.2 516.7 366.5 517.0 364.5 Z" fill="#747677"/>
<path d="M508.0 378.0 C506.9 373.7 510.7 367.6 516.0 366.0 C521.3 364.4 523.2 367.2 528.0 372.0 C532.8 376.8 532.4 376.0 534.0 384.0 C535.6 392.0 535.3 395.3 534.0 402.0 C532.7 408.7 530.9 411.7 529.0 409.0 C527.1 406.3 529.4 399.2 527.0 392.0 C524.6 384.8 525.1 385.7 520.0 382.0 C514.9 378.3 509.1 382.3 508.0 378.0 Z" fill="#848687"/>
<path d="M509 377.500 L517.500 371.500 Q527 378 528.500 390 L529.500 408" stroke="#a9abac" stroke-width="1.400" fill="none" opacity="0.9"/>
<path d="M448.8 435.0 C452.6 428.3 455.0 427.7 462.0 420.0 C469.0 412.3 469.4 408.9 475.0 406.0 C480.6 403.1 478.5 405.8 483.0 409.0 C487.5 412.2 489.2 409.7 492.0 418.0 C494.8 426.3 496.7 430.4 493.5 440.0 C490.3 449.6 486.9 446.7 480.0 454.0 C473.1 461.3 473.5 463.2 467.5 467.5 C461.5 471.8 462.2 472.0 457.5 470.0 C452.8 468.0 452.7 466.7 450.0 460.0 C447.3 453.3 447.8 451.7 447.5 445.0 C447.2 438.3 444.9 441.7 448.8 435.0 Z" fill="#858788"/>
<path d="M450.0 434.0 C451.9 430.7 456.3 427.6 463.0 420.5 C469.7 413.4 469.9 410.3 475.0 407.5 C480.1 404.7 483.1 405.9 482.0 410.0 C480.9 414.1 476.1 416.6 471.0 423.0 C465.9 429.4 467.0 431.3 463.0 434.0 C459.0 436.7 459.5 433.0 456.0 433.0 C452.5 433.0 448.1 437.3 450.0 434.0 Z" fill="#929495"/>
<path d="M449.5 438.7 C451.8 434.6 452.7 434.2 457.5 434.5 C462.3 434.8 464.2 435.9 467.5 440.0 C470.8 444.1 469.9 443.3 470.0 450.0 C470.1 456.7 470.3 459.7 468.0 465.0 C465.7 470.3 465.0 470.0 461.2 470.0 C457.4 470.0 457.0 470.3 453.7 465.0 C450.4 459.7 449.8 457.0 448.7 450.0 C447.6 443.0 447.2 442.8 449.5 438.7 Z" fill="#8e9091"/>
<path d="M452.0 441.0 C453.6 437.8 454.2 437.7 457.5 438.0 C460.8 438.3 462.1 438.5 464.5 442.0 C466.9 445.5 466.4 445.4 466.5 451.0 C466.6 456.6 466.6 458.9 465.0 463.0 C463.4 467.1 463.0 466.6 460.5 466.5 C458.0 466.4 457.9 466.9 455.5 462.5 C453.1 458.1 452.4 455.7 451.5 450.0 C450.6 444.3 450.4 444.2 452.0 441.0 Z" fill="#555758"/>
<path d="M458.0 439.0 C458.7 436.5 461.9 439.3 464.0 442.5 C466.1 445.7 465.9 445.7 466.0 451.0 C466.1 456.3 465.8 458.5 464.5 462.5 C463.2 466.5 461.8 468.8 461.0 466.0 C460.2 463.2 462.3 459.2 461.5 452.0 C460.7 444.8 457.3 441.5 458.0 439.0 Z" fill="#6e7071"/>
<path d="M481.5 408 L492.500 418 L493.500 440" stroke="#55575a" stroke-width="1.200" fill="none" opacity="0.8"/>
<path d="M413 483 L436.500 458.800 L442.500 461 L441 468 L436 475.800 L449.500 479.500 L453 485 L450.500 489 L438 485 L431.600 482 L423.400 484.500 Z" fill="#b3b5b6"/>
<path d="M414 482 L436.700 459.400 L438.500 460.300 L424 477.500 L423.400 483 Z" fill="#8c8e8f"/>
<path d="M435.700 475.800 L449.500 479.500 L453 485 L450.500 489 L437.800 485 Z" fill="#c5c7c8"/>
<circle cx="446.500" cy="483.500" r="1.400" fill="#6f7172"/><circle cx="438" cy="479" r="1.100" fill="#77797a"/>
<path d="M379.2 512.8 C380.3 509.0 379.3 510.9 382.3 508.7 C385.3 506.5 387.2 507.2 390.5 504.5 C393.8 501.8 392.9 503.3 394.6 498.4 C396.3 493.5 395.3 491.2 396.7 486.0 C398.1 480.8 397.8 481.7 400.0 479.0 C402.2 476.3 401.3 476.9 405.0 475.8 C408.7 474.7 407.5 472.6 414.0 474.8 C420.5 477.0 424.5 479.9 429.5 484.0 C434.5 488.1 432.0 484.0 432.6 490.0 C433.2 496.0 433.5 500.3 431.6 506.6 C429.7 512.9 428.9 511.1 425.4 513.8 C421.9 516.5 420.5 512.3 418.3 516.9 C416.1 521.5 418.3 524.1 417.2 531.2 C416.1 538.3 416.7 538.1 414.0 543.6 C411.3 549.1 411.6 549.1 407.0 551.8 C402.4 554.5 402.2 554.9 396.7 553.8 C391.2 552.7 390.8 552.6 386.4 547.7 C382.0 542.8 382.5 542.0 380.3 535.4 C378.1 528.8 378.5 529.0 378.2 523.0 C377.9 517.0 378.1 516.6 379.2 512.8 Z" fill="url(#g25)"/>
<path d="M397.0 486.0 C397.0 486.0 398.5 481.6 400.5 479.5 C402.5 477.4 402.5 477.7 405.5 477.0 C408.5 476.3 408.1 474.8 413.5 476.5 C418.9 478.2 424.4 481.7 428.5 484.5 C432.6 487.3 431.0 488.5 431.0 488.5 C431.0 488.5 420.0 492.5 420.0 492.5 C420.0 492.5 397.0 486.0 397.0 486.0 Z" fill="#7d7f80"/>
<path d="M397.0 486.5 C397.0 486.5 420.0 493.0 420.0 493.0 C420.0 493.0 419.0 516.0 419.0 516.0 C419.0 516.0 414.4 514.1 410.0 512.0 C405.6 509.9 403.5 510.0 400.0 507.0 C396.5 504.0 395.7 503.8 395.0 499.0 C394.3 494.2 397.0 486.5 397.0 486.5 Z" fill="#6d6f70"/>
<path d="M420.5 493.0 C420.5 493.0 432.0 489.5 432.0 489.5 C432.0 489.5 433.1 500.5 431.5 506.0 C429.9 511.5 427.9 510.7 425.0 513.0 C422.1 515.3 419.0 516.0 419.0 516.0 C419.0 516.0 420.5 493.0 420.5 493.0 Z" fill="#5d5f60"/>
<path d="M395.0 500.0 C397.1 499.2 397.5 504.4 402.0 508.0 C406.5 511.6 407.7 511.1 412.0 513.5 C416.3 515.9 416.7 512.3 418.0 517.0 C419.3 521.7 418.2 524.1 417.0 531.0 C415.8 537.9 416.2 537.7 413.5 543.0 C410.8 548.3 410.1 548.6 407.0 551.0 C403.9 553.4 402.8 555.5 402.0 552.0 C401.2 548.5 404.0 545.5 404.0 538.0 C404.0 530.5 404.7 531.2 402.0 524.0 C399.3 516.8 395.9 517.4 394.0 511.0 C392.1 504.6 392.9 500.8 395.0 500.0 Z" fill="#66686a" opacity="0.7" filter="url(#b1)"/>
<path d="M379.3 513.0 C380.5 506.4 381.5 509.8 385.0 510.7 C388.5 511.6 388.4 511.1 392.5 516.5 C396.6 521.9 398.2 523.0 400.5 531.0 C402.8 539.0 402.4 540.6 401.2 546.5 C400.0 552.4 399.7 552.5 396.0 553.0 C392.3 553.5 391.6 553.2 387.5 548.5 C383.4 543.8 382.7 545.0 380.5 535.5 C378.3 526.0 378.1 519.6 379.3 513.0 Z" fill="#808283"/>
<path d="M381.0 516.5 C381.9 511.2 382.7 513.2 385.5 514.0 C388.3 514.8 388.0 514.7 391.5 519.5 C395.0 524.3 396.4 525.1 398.5 532.0 C400.6 538.9 400.0 540.7 399.2 545.5 C398.4 550.3 398.4 549.9 395.5 550.0 C392.6 550.1 392.1 550.3 388.5 546.0 C384.9 541.7 384.0 541.9 382.0 534.0 C380.0 526.1 380.1 521.8 381.0 516.5 Z" fill="#6c6e6f"/>
<path d="M381.5 518.0 C382.3 513.9 383.5 513.3 385.5 516.5 C387.5 519.7 387.4 522.8 389.0 530.0 C390.6 537.2 391.6 539.5 391.5 543.5 C391.4 547.5 390.9 548.1 388.5 545.0 C386.1 541.9 384.4 539.2 382.5 532.0 C380.6 524.8 380.7 522.1 381.5 518.0 Z" fill="#7c7e7f"/>
</g>

</g>
<g id="frames">
<!-- box 1 -->
<path class="l" d="M322.5 281 V30.5 H439.5 L684 134.5 V281 Z"/>
<path class="l" d="M303 65.3 H322.5"/>

<!-- box 17 -->
<rect class="l" x="16.5" y="193" width="190.5" height="227.5"/>
<path class="l" d="M115 183 V193"/>
<!-- right column -->
<path class="l" style="stroke-width:1.1" d="M722 10.500 H791.500 V538.500 H652.500 V442.500 H722 Z"/>
<path class="l" style="stroke-width:1.1" d="M722 58.500H791.500 M722 106.500H791.500 M722 154.500H791.500 M722 202.500H791.500 M722 250.500H791.500 M722 298.500H791.500 M722 346.500H791.500 M722 394.500H791.500 M722 442.500H791.500 M652.500 490.500H791.500 M722 442.500V538.500"/>

</g>
<g id="leaders">
<!-- long axis line 18 -> pipe 1 -->
<path d="M325 110.400 L340.800 100.900" stroke="#f4f4f4" stroke-width="3.200" fill="none"/>
<path class="dd" style="stroke-dasharray:27.500 3.300 2.400 3.300" d="M161.7 208.5 L340.8 100.9"/>
<path class="l" d="M131.5 225 L148.5 215"/>
<!-- 8 -> 5 axis -->
<path d="M529 116.600 L467 151.800" stroke="#f4f4f4" stroke-width="3.400" fill="none"/>
<path class="dd" style="stroke-dasharray:28 3.300 2.400 3.300" d="M593 80.5 L451 161"/>
<!-- 3 leaders -->
<path class="l" d="M571 140.5 L560 146.5"/>
<path class="l" d="M486 186 L504 175.5"/>
<!-- 6 pins -->
<path d="M404.5 62 V101" stroke="#111" stroke-width="2.6" fill="none"/><path d="M404.5 62 V101" stroke="#ddd" stroke-width="0.8" fill="none"/>
<path d="M480.3 88.5 V141" stroke="#111" stroke-width="2.6" fill="none"/><path d="M480.3 88.5 V141" stroke="#ddd" stroke-width="0.8" fill="none"/>
<!-- 7 -->
<path class="l" d="M381.6 128.5 L379.2 122.5"/>
<!-- 10 / 11 -->
<path class="l" d="M526 26 V36"/>
<path class="l" d="M553 29.5 L557.5 27"/>
<!-- 2 -->
<path class="l" d="M661.600 198.400 H671"/>
<!-- 9 -->
<path class="l" d="M517.5 274 V307"/>
<!-- housing -> duct 12 axis -->
<path d="M525 243.7 L505 273" stroke="#fff" stroke-width="3" fill="none"/>
<path class="dd" style="stroke-dasharray:27 3.300 2.400 3.300" d="M525 243.7 L456.2 344.3"/>
<!-- 13 pin -->
<path d="M374.7 363.5 V412" stroke="#111" stroke-width="2.6" fill="none"/><path d="M374.7 363.5 V412" stroke="#ddd" stroke-width="0.8" fill="none"/>
<!-- 12 -->
<path class="l" d="M334.500 400.700 H351.500"/>
<!-- 8 lower -->
<path class="l" d="M441.5 429 V459"/>
<!-- 26 25 27 -->
<path class="l" d="M511.600 430.300 V442.800"/>
<path class="l" d="M434 501 H442.5"/>
<path class="l" d="M402.7 516.7 L442 526.5"/><circle cx="402.700" cy="516.700" r="2" fill="#000"/>
<!-- 16 14 15 -->
<path class="l" d="M209 467 V478"/>
<path class="l" d="M257 467 V496"/>
<path d="M298.7 471.500 V489.500" stroke="#111" stroke-width="2.6" fill="none"/><path d="M298.7 471.500 V489.500" stroke="#ddd" stroke-width="0.8" fill="none"/>
<!-- 18 19 20 -->
<path class="l" d="M168 222.500 H180"/>
<path class="l" d="M150.500 292.500 H161.500"/>
<path class="l" d="M140.500 384.200 H152.500"/>
<!-- 21 / 22 brackets -->
<path class="l" d="M265 239.700 H293.700 V299.200 H289 M293.700 267.700 H297.500"/>
<path class="l" d="M250.500 286 H260.700 V314.800 H251 M260.700 299.300 H266"/>
<path class="dd" style="stroke-dasharray:6 2 1.5 2" d="M252.500 256.300 L248.700 267.500"/>
<path class="dd" style="stroke-dasharray:6 2 1.5 2" d="M241.200 293 L238.700 300.500"/>
<!-- box 17 axis lines -->
<path class="dd" style="stroke-dasharray:14 3 2.400 3" d="M137.500 311.600 L133.900 325.400 L70.600 312.500 L68 323"/>
<path class="dd" style="stroke-dasharray:28 3.300 2.400 3.300" d="M68 321.800 L221.600 353.800 L227.800 333.600"/>
<path class="dd" style="stroke-dasharray:28 3.300 2.400 3.300" d="M70.600 361.400 H233.700"/>

</g>
<g id="labels">
<g transform="translate(292.6 72.4) scale(1.06 1)"><path class="t1" d="M774 0 L493 0 L493 1059 Q339 915 130 846 L130 1101 Q240 1137 369 1237.5 Q498 1338 546 1472 L774 1472 Z" transform="translate(0.00 0) scale(0.00952 -0.00952)"/></g>
<g transform="translate(103.9 179.2) scale(1.06 1)"><path class="t1" d="M774 0 L493 0 L493 1059 Q339 915 130 846 L130 1101 Q240 1137 369 1237.5 Q498 1338 546 1472 L774 1472 Z" transform="translate(0.00 0) scale(0.00952 -0.00952)"/><text class="t" x="11.60" y="0">7</text></g>
<g transform="translate(181.7 229.6) scale(1.06 1)"><path class="t1" d="M774 0 L493 0 L493 1059 Q339 915 130 846 L130 1101 Q240 1137 369 1237.5 Q498 1338 546 1472 L774 1472 Z" transform="translate(0.00 0) scale(0.00952 -0.00952)"/><text class="t" x="11.60" y="0">8</text></g>
<g transform="translate(162.6 299.7) scale(1.06 1)"><path class="t1" d="M774 0 L493 0 L493 1059 Q339 915 130 846 L130 1101 Q240 1137 369 1237.5 Q498 1338 546 1472 L774 1472 Z" transform="translate(0.00 0) scale(0.00952 -0.00952)"/><text class="t" x="11.60" y="0">9</text></g>
<g transform="translate(153.3 391) scale(1.06 1)"><text class="t" x="0.00" y="0">2</text><text class="t" x="11.60" y="0">0</text></g>
<g transform="translate(297.5 275) scale(1.06 1)"><text class="t" x="0.00" y="0">2</text><path class="t1" d="M774 0 L493 0 L493 1059 Q339 915 130 846 L130 1101 Q240 1137 369 1237.5 Q498 1338 546 1472 L774 1472 Z" transform="translate(11.60 0) scale(0.00952 -0.00952)"/></g>
<g transform="translate(266 307) scale(1.06 1)"><text class="t" x="0.00" y="0">2</text><text class="t" x="11.60" y="0">2</text></g>
<g transform="translate(311 407.7) scale(1.06 1)"><path class="t1" d="M774 0 L493 0 L493 1059 Q339 915 130 846 L130 1101 Q240 1137 369 1237.5 Q498 1338 546 1472 L774 1472 Z" transform="translate(0.00 0) scale(0.00952 -0.00952)"/><text class="t" x="11.60" y="0">2</text></g>
<g transform="translate(514.3 22.6) scale(1.06 1)"><path class="t1" d="M774 0 L493 0 L493 1059 Q339 915 130 846 L130 1101 Q240 1137 369 1237.5 Q498 1338 546 1472 L774 1472 Z" transform="translate(0.00 0) scale(0.00952 -0.00952)"/><text class="t" x="11.60" y="0">0</text></g>
<g transform="translate(671.7 205.5) scale(1.06 1)"><text class="t" x="0.00" y="0">2</text></g>
<g transform="translate(198.2 463.2) scale(1.06 1)"><path class="t1" d="M774 0 L493 0 L493 1059 Q339 915 130 846 L130 1101 Q240 1137 369 1237.5 Q498 1338 546 1472 L774 1472 Z" transform="translate(0.00 0) scale(0.00952 -0.00952)"/><text class="t" x="11.60" y="0">6</text></g>
<g transform="translate(245.7 463.4) scale(1.06 1)"><path class="t1" d="M774 0 L493 0 L493 1059 Q339 915 130 846 L130 1101 Q240 1137 369 1237.5 Q498 1338 546 1472 L774 1472 Z" transform="translate(0.00 0) scale(0.00952 -0.00952)"/><text class="t" x="11.60" y="0">4</text></g>
<g transform="translate(444.5 508) scale(1.06 1)"><text class="t" x="0.00" y="0">2</text><text class="t" x="11.60" y="0">5</text></g>
<g transform="translate(499.7 460.6) scale(1.06 1)"><text class="t" x="0.00" y="0">2</text><text class="t" x="11.60" y="0">6</text></g>
<g transform="translate(723.5 28.5) scale(1.06 1)"><text class="t" x="0.00" y="0">2</text><text class="t" x="11.60" y="0">3</text></g>
<g transform="translate(723.7 76.5) scale(1.06 1)"><path class="t1" d="M774 0 L493 0 L493 1059 Q339 915 130 846 L130 1101 Q240 1137 369 1237.5 Q498 1338 546 1472 L774 1472 Z" transform="translate(0.00 0) scale(0.00952 -0.00952)"/><text class="t" x="11.60" y="0">3</text></g>
<g transform="translate(723.7 124.2) scale(1.06 1)"><path class="t1" d="M774 0 L493 0 L493 1059 Q339 915 130 846 L130 1101 Q240 1137 369 1237.5 Q498 1338 546 1472 L774 1472 Z" transform="translate(0.00 0) scale(0.00952 -0.00952)"/><path class="t1" d="M774 0 L493 0 L493 1059 Q339 915 130 846 L130 1101 Q240 1137 369 1237.5 Q498 1338 546 1472 L774 1472 Z" transform="translate(11.60 0) scale(0.00952 -0.00952)"/></g>
<g transform="translate(723.7 149) scale(1.06 1)"><path class="t1" d="M774 0 L493 0 L493 1059 Q339 915 130 846 L130 1101 Q240 1137 369 1237.5 Q498 1338 546 1472 L774 1472 Z" transform="translate(0.00 0) scale(0.00952 -0.00952)"/><text class="t" x="11.60" y="0">5</text></g>
<g transform="translate(729.5 173.3) scale(1.06 1)"><text class="t" x="0.00" y="0">9</text></g>
<g transform="translate(729.5 221.2) scale(1.06 1)"><text class="t" x="0.00" y="0">8</text></g>
<g transform="translate(729.5 269) scale(1.06 1)"><text class="t" x="0.00" y="0">7</text></g>
<g transform="translate(729.5 317.5) scale(1.06 1)"><text class="t" x="0.00" y="0">6</text></g>
<g transform="translate(729.5 365) scale(1.06 1)"><text class="t" x="0.00" y="0">5</text></g>
<g transform="translate(729.5 413.5) scale(1.06 1)"><text class="t" x="0.00" y="0">4</text></g>
<g transform="translate(729.5 460.5) scale(1.06 1)"><text class="t" x="0.00" y="0">3</text></g>
<g transform="translate(654 460.5) scale(1.06 1)"><text class="t" x="0.00" y="0">2</text><text class="t" x="11.60" y="0">7</text></g>
<g transform="translate(654 509) scale(1.06 1)"><text class="t" x="0.00" y="0">2</text><text class="t" x="11.60" y="0">4</text></g>
<circle class="c" cx="404.2" cy="47" r="14.4"/><g transform="translate(404.2 54) scale(1.06 1)"><text class="t" x="-5.42" y="0">6</text></g>
<circle class="c" cx="480.2" cy="73.3" r="14.4"/><g transform="translate(480.2 80.3) scale(1.06 1)"><text class="t" x="-5.42" y="0">6</text></g>
<circle class="c" cx="385.7" cy="144" r="14.4"/><g transform="translate(385.7 151) scale(1.06 1)"><text class="t" x="-5.42" y="0">7</text></g>
<circle class="c" cx="605.6" cy="73.4" r="14.4"/><g transform="translate(605.6 80.4) scale(1.06 1)"><text class="t" x="-5.42" y="0">8</text></g>
<circle class="c" cx="571.3" cy="17.2" r="14.4"/><g transform="translate(571.3 24.2) scale(1.06 1)"><path class="t1" d="M774 0 L493 0 L493 1059 Q339 915 130 846 L130 1101 Q240 1137 369 1237.5 Q498 1338 546 1472 L774 1472 Z" transform="translate(-11.22 0) scale(0.00952 -0.00952)"/><path class="t1" d="M774 0 L493 0 L493 1059 Q339 915 130 846 L130 1101 Q240 1137 369 1237.5 Q498 1338 546 1472 L774 1472 Z" transform="translate(0.38 0) scale(0.00952 -0.00952)"/></g>
<circle class="c" cx="583.8" cy="133.8" r="14.4"/><g transform="translate(583.8 140.8) scale(1.06 1)"><text class="t" x="-5.42" y="0">3</text></g>
<circle class="c" cx="473.2" cy="192.5" r="14.4"/><g transform="translate(473.2 199.5) scale(1.06 1)"><text class="t" x="-5.42" y="0">3</text></g>
<circle class="c" cx="438.5" cy="168.6" r="14.4"/><g transform="translate(438.5 175.6) scale(1.06 1)"><text class="t" x="-5.42" y="0">5</text></g>
<circle class="c" cx="409" cy="184" r="14.4"/><g transform="translate(409 191) scale(1.06 1)"><text class="t" x="-5.42" y="0">4</text></g>
<circle class="c" cx="517.7" cy="320.4" r="14.4"/><g transform="translate(517.7 327.4) scale(1.06 1)"><text class="t" x="-5.42" y="0">9</text></g>
<circle class="c" cx="374.7" cy="349" r="14.4"/><g transform="translate(374.7 356) scale(1.06 1)"><path class="t1" d="M774 0 L493 0 L493 1059 Q339 915 130 846 L130 1101 Q240 1137 369 1237.5 Q498 1338 546 1472 L774 1472 Z" transform="translate(-11.22 0) scale(0.00952 -0.00952)"/><text class="t" x="0.38" y="0">3</text></g>
<circle class="c" cx="441.4" cy="414.5" r="14.4"/><g transform="translate(441.4 421.5) scale(1.06 1)"><text class="t" x="-5.42" y="0">8</text></g>
<circle class="c" cx="298.7" cy="456.3" r="14.4"/><g transform="translate(298.7 463.3) scale(1.06 1)"><path class="t1" d="M774 0 L493 0 L493 1059 Q339 915 130 846 L130 1101 Q240 1137 369 1237.5 Q498 1338 546 1472 L774 1472 Z" transform="translate(-11.22 0) scale(0.00952 -0.00952)"/><text class="t" x="0.38" y="0">5</text></g>
<circle class="c" cx="233.9" cy="314.7" r="14.4"/><g transform="translate(233.9 321.7) scale(1.06 1)"><text class="t" x="-11.22" y="0">2</text><text class="t" x="0.38" y="0">3</text></g>
<circle class="c" cx="248.7" cy="361.2" r="14.4"/><g transform="translate(248.7 368.2) scale(1.06 1)"><text class="t" x="-11.22" y="0">2</text><text class="t" x="0.38" y="0">4</text></g>
<circle class="c" cx="455.9" cy="530.6" r="14.4"/><g transform="translate(455.9 537.6) scale(1.06 1)"><text class="t" x="-11.22" y="0">2</text><text class="t" x="0.38" y="0">7</text></g>
<text class="sm" x="738" y="553">482116</text>
</g>
</svg>
</body>
</html>
